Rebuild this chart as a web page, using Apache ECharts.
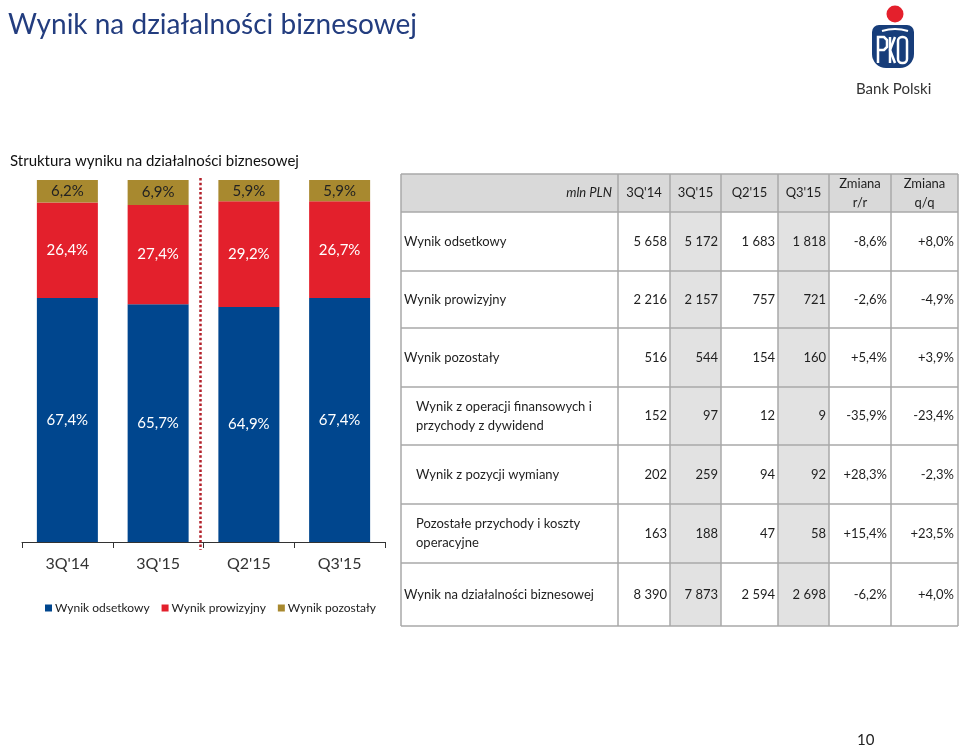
<!DOCTYPE html>
<html><head><meta charset="utf-8">
<script src="https://cdn.jsdelivr.net/npm/echarts@6/dist/echarts.min.js"></script>
<style>html,body{margin:0;padding:0;background:#fff}#c{width:960px;height:747px}</style>
</head><body><div id="c"></div>
<script>
// ---- chart data ----
const categories = ["3Q'14", "3Q'15", "Q2'15", "Q3'15"];
const seriesNames = ['Wynik odsetkowy', 'Wynik prowizyjny', 'Wynik pozostały'];
const shareInterest = [67.4, 65.7, 64.9, 67.4];
const shareFee = [26.4, 27.4, 29.2, 26.7];
const shareOther = [6.2, 6.9, 5.9, 5.9];

// ---- table data ----
const tableUnit = 'mln PLN';
const tableColumns = ["3Q'14", "3Q'15", "Q2'15", "Q3'15", 'Zmiana\nr/r', 'Zmiana\nq/q'];
const rowLabels = ['Wynik odsetkowy', 'Wynik prowizyjny', 'Wynik pozostały',
  'Wynik z operacji finansowych i\nprzychody z dywidend', 'Wynik z pozycji wymiany',
  'Pozostałe przychody i koszty\noperacyjne', 'Wynik na działalności biznesowej'];
const rowIndented = [false, false, false, true, true, true, false];
const val3Q14 = [5658, 2216, 516, 152, 202, 163, 8390];
const val3Q15 = [5172, 2157, 544, 97, 259, 188, 7873];
const valQ215 = [1683, 757, 154, 12, 94, 47, 2594];
const valQ315 = [1818, 721, 160, 9, 92, 58, 2698];
const changeYoY = [-8.6, -2.6, 5.4, -35.9, 28.3, 15.4, -6.2];
const changeQoQ = [8.0, -4.9, 3.9, -23.4, -2.3, 23.5, 4.0];

const FONT = 'Lato';
const colors = ['#00468e', '#e3202c', '#a8892f'];
const fmtPct = v => v.toFixed(1).replace('.', ',') + '%';
const fmtNum = v => String(v).replace(/\B(?=(\d{3})+(?!\d))/g, ' ');
const fmtChg = v => (v > 0 ? '+' : '') + v.toFixed(1).replace('.', ',') + '%';

const chart = echarts.init(document.getElementById('c'), null, {renderer: 'canvas'});
chart.setOption({
  animation: false,
  textStyle: {fontFamily: FONT},
  title: [
    {text: 'Wynik na działalności biznesowej', left: 3, top: 6,
      textStyle: {fontSize: 28, fontWeight: 'normal', color: '#233d7f', fontFamily: FONT}},
    {text: 'Struktura wyniku na działalności biznesowej', left: 5, top: 149,
      textStyle: {fontSize: 15, fontWeight: 'normal', color: '#111', fontFamily: FONT}}
  ],
  legend: {left: 40, top: 597, itemWidth: 7, itemHeight: 7, itemGap: 12, icon: 'rect',
    textStyle: {fontSize: 12, color: '#222', fontFamily: FONT, padding: [0, 0, 0, -2]}, data: seriesNames},
  grid: {left: 22, right: 575, top: 180, bottom: 205},
  xAxis: {type: 'category', data: categories,
    axisLine: {lineStyle: {color: '#333', width: 1}},
    axisTick: {show: true, length: 6, lineStyle: {color: '#333'}},
    axisLabel: {fontSize: 16, color: '#333', margin: 14, fontFamily: FONT}},
  yAxis: {type: 'value', min: 0, max: 100, show: false},
  series: [shareInterest, shareFee, shareOther].map((d, i) => ({
    name: seriesNames[i], type: 'bar', stack: 'total', data: d, barWidth: 61,
    itemStyle: {color: colors[i]},
    label: {show: true, position: 'inside', color: i === 2 ? '#222' : '#fff', fontSize: 15,
      fontFamily: FONT, formatter: p => fmtPct(p.value)}
  }))
});

// ---- decorations & table (graphic) ----
const g = [];
const px1 = chart.convertToPixel({xAxisIndex: 0}, categories[1]);
const px2 = chart.convertToPixel({xAxisIndex: 0}, categories[2]);
const sepX = (px1 + px2) / 2 - 3;
g.push({type: 'line', shape: {x1: sepX, y1: 178, x2: sepX, y2: 550},
  style: {stroke: '#b3202a', lineWidth: 2.5, lineDash: [2.5, 2.2]}, z: 10});

// logo
const white = {stroke: '#fff', lineWidth: 2.5, fill: null};
g.push({type: 'circle', shape: {cx: 895, cy: 14, r: 8.5}, style: {fill: '#e4202c'}});
g.push({type: 'rect', shape: {x: 872, y: 25, width: 42, height: 43, r: [7, 7, 14, 14]}, style: {fill: '#173d7a'}});
g.push({type: 'bezierCurve', shape: {x1: 882, y1: 31, x2: 908, y2: 31, cpx1: 895, cpy1: 27}, style: {stroke: '#fff', lineWidth: 2, fill: null}});
g.push({type: 'polyline', shape: {points: [[878, 63], [878, 37], [884, 37], [887, 40], [887, 47], [884, 50], [878, 50]]}, style: white});
g.push({type: 'polyline', shape: {points: [[890, 37], [890, 63]]}, style: white});
g.push({type: 'polyline', shape: {points: [[895, 37], [890, 50], [895, 63]]}, style: white});
g.push({type: 'rect', shape: {x: 898, y: 37, width: 9, height: 26, r: 4}, style: white});
g.push({type: 'text', x: 856, y: 89, style: {text: 'Bank Polski', fill: '#333', font: '15px ' + FONT, textVerticalAlign: 'middle'}});
g.push({type: 'text', x: 857, y: 740, style: {text: '10', fill: '#222', font: '15px ' + FONT, textVerticalAlign: 'middle'}});

// table
const colX = [401, 618, 670, 721, 778, 829, 891, 958];
const rowY = [174, 212, 271, 328, 387, 445, 504, 563, 626];
const border = '#a8a8a8';
g.push({type: 'rect', shape: {x: colX[0], y: rowY[0], width: colX[7] - colX[0], height: rowY[1] - rowY[0]}, style: {fill: '#d9d9d9'}});
[2, 4].forEach(c => g.push({type: 'rect', shape: {x: colX[c], y: rowY[1], width: colX[c + 1] - colX[c], height: rowY[8] - rowY[1]}, style: {fill: '#e2e2e2'}}));
rowY.forEach(y => g.push({type: 'line', shape: {x1: colX[0], y1: y, x2: colX[7], y2: y}, style: {stroke: border, lineWidth: 1.5}}));
colX.forEach(x => g.push({type: 'line', shape: {x1: x, y1: rowY[0], x2: x, y2: rowY[8]}, style: {stroke: border, lineWidth: 1.5}}));

const txt = (text, x, y, align, opts) => g.push({type: 'text', x: x, y: y, z: 5,
  style: Object.assign({text: text, fill: '#1e1e1e', font: '13px ' + FONT, textAlign: align, textVerticalAlign: 'middle', lineHeight: 19}, opts || {})});
const hy = (rowY[0] + rowY[1]) / 2;
txt(tableUnit, colX[1] - 6, hy, 'right', {font: 'italic 13px ' + FONT});
tableColumns.forEach((c, i) => txt(c, (colX[i + 1] + colX[i + 2]) / 2, hy, 'center'));
const numCols = [val3Q14, val3Q15, valQ215, valQ315];
rowLabels.forEach((lab, r) => {
  const cy = (rowY[r + 1] + rowY[r + 2]) / 2;
  txt(lab, colX[0] + (rowIndented[r] ? 15 : 3), cy, 'left');
  numCols.forEach((arr, c) => txt(fmtNum(arr[r]), colX[c + 2] - 3, cy, 'right'));
  txt(fmtChg(changeYoY[r]), colX[6] - 4, cy, 'right');
  txt(fmtChg(changeQoQ[r]), colX[7] - 4, cy, 'right');
});
chart.setOption({graphic: g});
</script></body></html>
